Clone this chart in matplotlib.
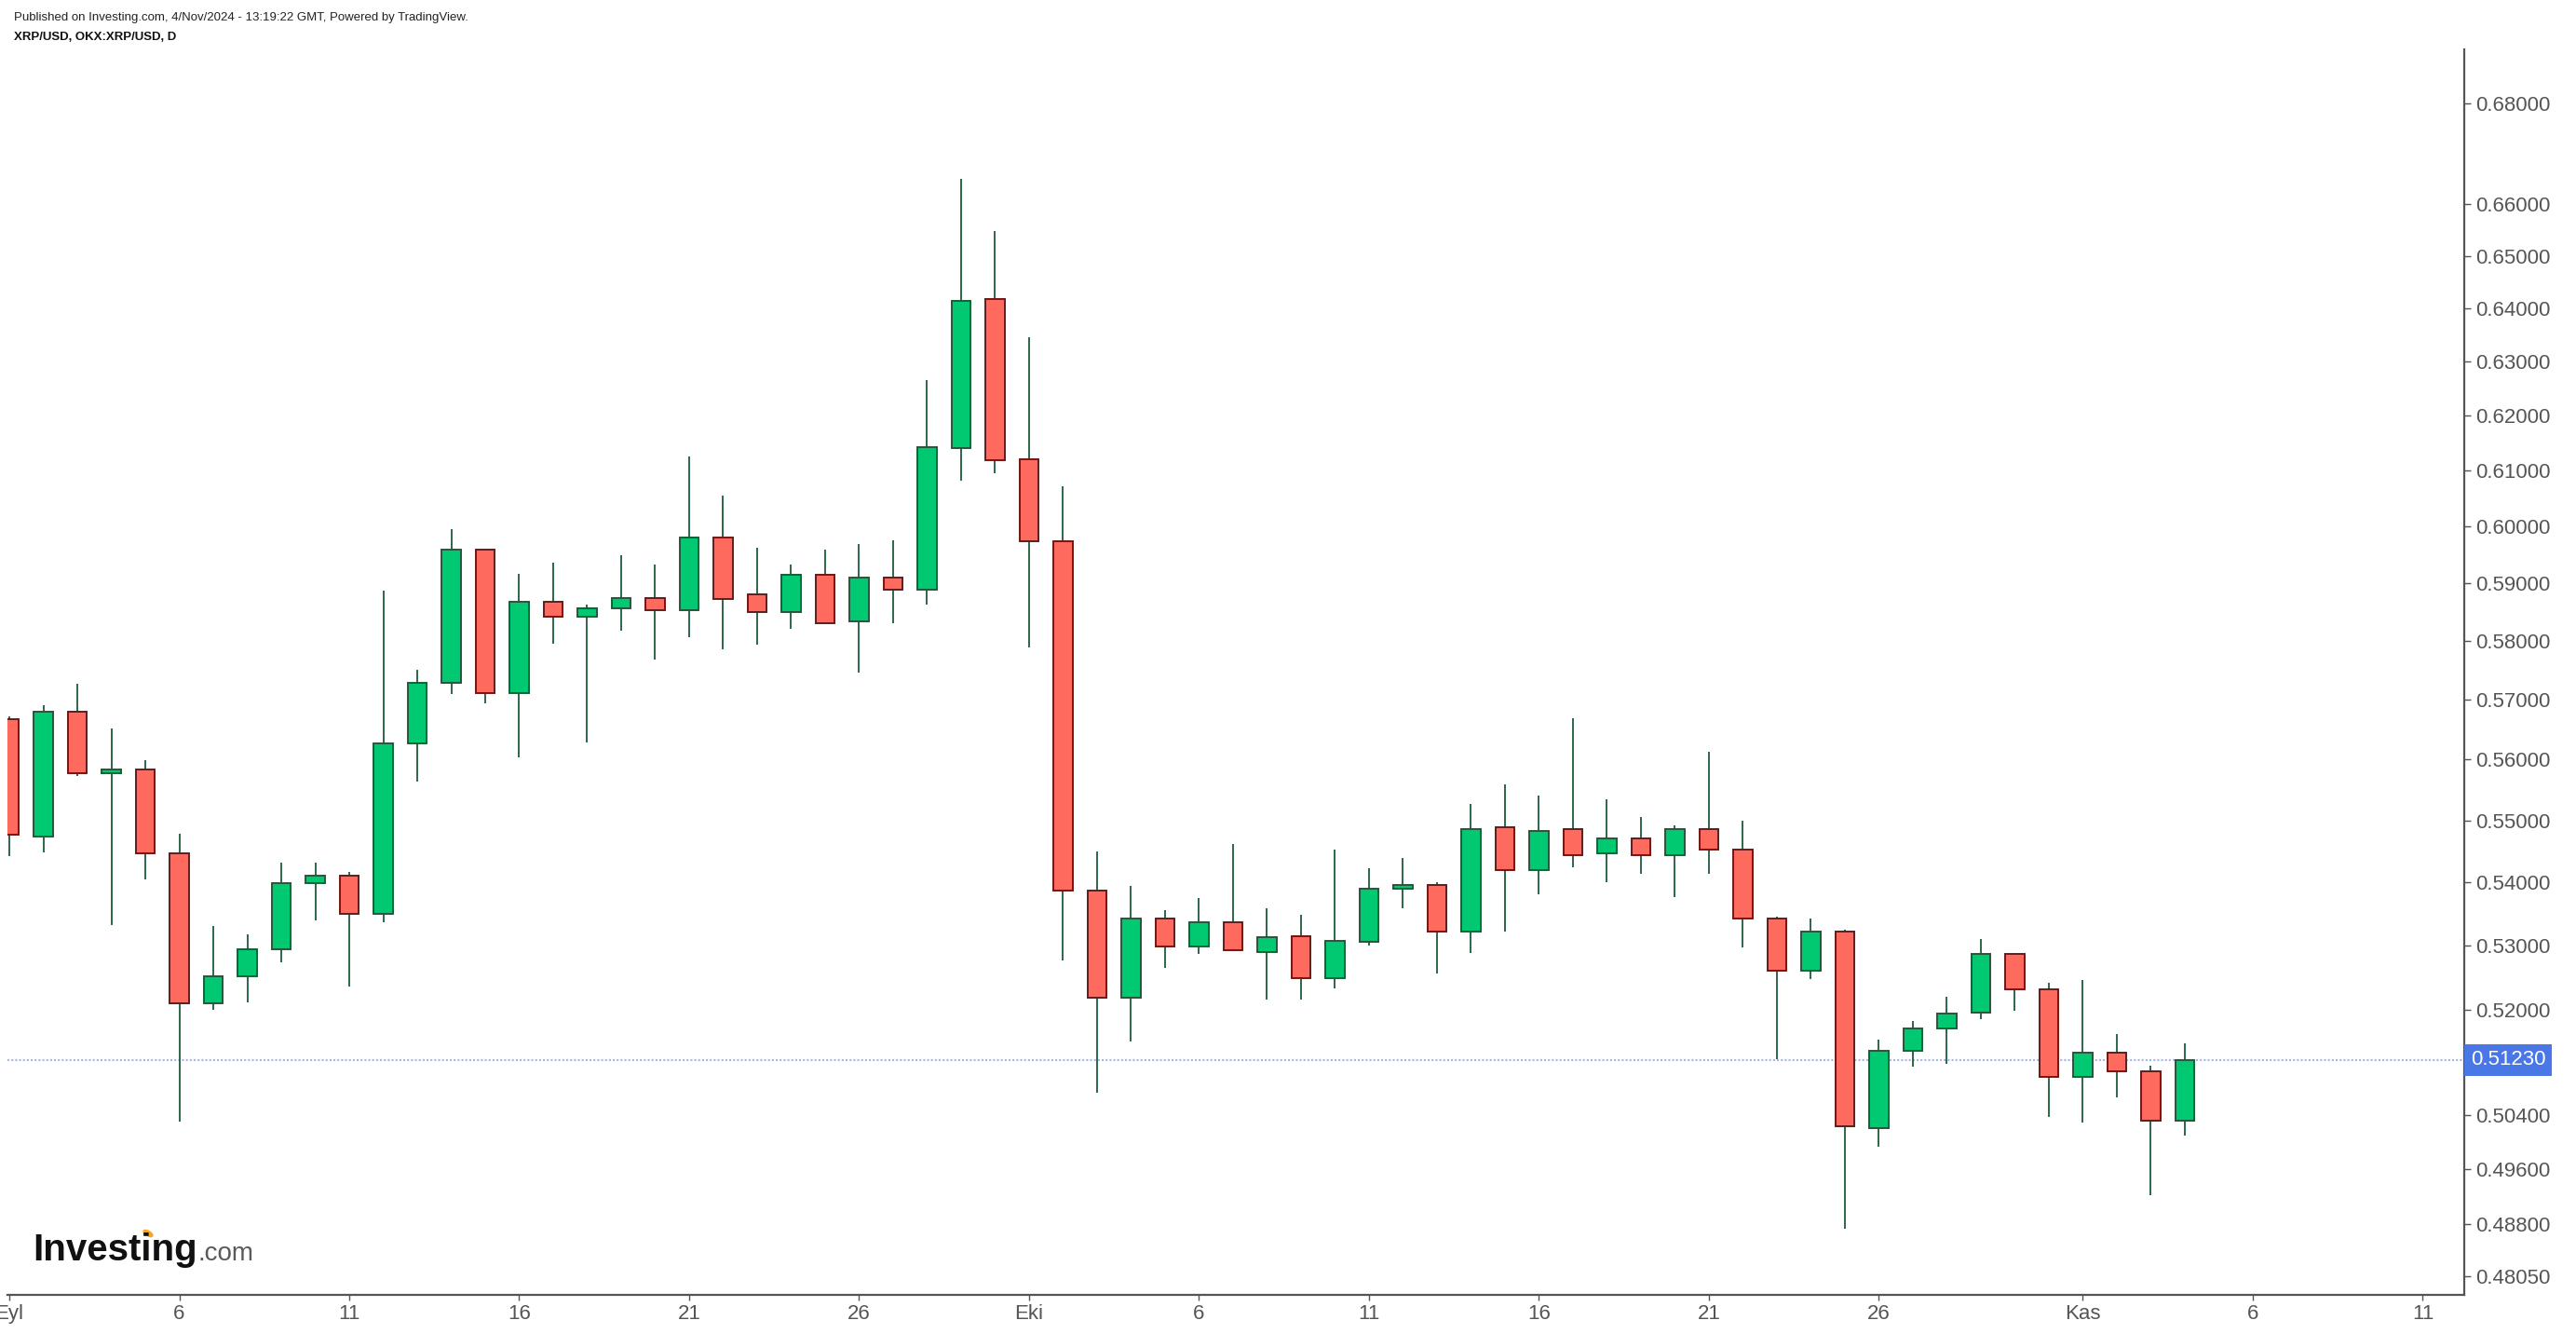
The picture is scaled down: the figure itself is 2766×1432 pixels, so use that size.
import numpy as np
import pandas as pd
import matplotlib
matplotlib.use('Agg')
import matplotlib.pyplot as plt
import matplotlib.dates as mdates
from matplotlib.patches import Ellipse
from matplotlib.ticker import FixedLocator, FixedFormatter, NullLocator

# XRP/USD daily candles, 1 Sep 2024 - 4 Nov 2024
opens = [0.5667, 0.5473, 0.5680, 0.5577, 0.5583, 0.5447, 0.5210, 0.5251,
         0.5294, 0.5399, 0.5410, 0.5350, 0.5626, 0.5729, 0.5958, 0.5711,
         0.5867, 0.5841, 0.5856, 0.5874, 0.5853, 0.5981, 0.5881, 0.5850,
         0.5915, 0.5834, 0.5909, 0.5888, 0.6141, 0.6418, 0.6121, 0.5974,
         0.5386, 0.5219, 0.5342, 0.5298, 0.5336, 0.5289, 0.5315, 0.5249,
         0.5306, 0.5389, 0.5396, 0.5321, 0.5489, 0.5419, 0.5485, 0.5446,
         0.5470, 0.5443, 0.5485, 0.5452, 0.5342, 0.5260, 0.5321, 0.5021,
         0.5137, 0.5171, 0.5196, 0.5286, 0.5232, 0.5097, 0.5134, 0.5106,
         0.5032]
highs = [0.5671, 0.5690, 0.5727, 0.5652, 0.5599, 0.5478, 0.5330, 0.5318,
         0.5432, 0.5432, 0.5417, 0.5887, 0.5750, 0.5995, 0.5958, 0.5916,
         0.5936, 0.5862, 0.5949, 0.5932, 0.6125, 0.6055, 0.5962, 0.5932,
         0.5958, 0.5969, 0.5975, 0.6265, 0.6650, 0.6548, 0.6345, 0.6072,
         0.5450, 0.5394, 0.5356, 0.5375, 0.5462, 0.5358, 0.5348, 0.5453,
         0.5422, 0.5439, 0.5400, 0.5526, 0.5559, 0.5541, 0.5668, 0.5535,
         0.5505, 0.5492, 0.5612, 0.5500, 0.5345, 0.5343, 0.5325, 0.5154,
         0.5183, 0.5220, 0.5310, 0.5286, 0.5241, 0.5246, 0.5163, 0.5115,
         0.5149]
lows = [0.5442, 0.5448, 0.5573, 0.5332, 0.5405, 0.5031, 0.5200, 0.5212,
        0.5273, 0.5340, 0.5236, 0.5337, 0.5563, 0.5710, 0.5694, 0.5603,
        0.5795, 0.5628, 0.5817, 0.5768, 0.5807, 0.5785, 0.5794, 0.5821,
        0.5831, 0.5746, 0.5830, 0.5862, 0.6081, 0.6095, 0.5789, 0.5276,
        0.5074, 0.5152, 0.5265, 0.5286, 0.5292, 0.5216, 0.5216, 0.5233,
        0.5300, 0.5359, 0.5256, 0.5288, 0.5321, 0.5380, 0.5424, 0.5400,
        0.5413, 0.5376, 0.5413, 0.5297, 0.5125, 0.5247, 0.4874, 0.4993,
        0.5113, 0.5118, 0.5186, 0.5199, 0.5037, 0.5029, 0.5067, 0.4922,
        0.5010]
closes = [0.5476, 0.5680, 0.5577, 0.5584, 0.5446, 0.5210, 0.5252, 0.5294,
          0.5399, 0.5410, 0.5350, 0.5626, 0.5729, 0.5958, 0.5711, 0.5867,
          0.5841, 0.5856, 0.5874, 0.5853, 0.5981, 0.5873, 0.5850, 0.5915,
          0.5831, 0.5909, 0.5888, 0.6142, 0.6415, 0.6118, 0.5974, 0.5386,
          0.5219, 0.5342, 0.5298, 0.5336, 0.5292, 0.5313, 0.5249, 0.5307,
          0.5389, 0.5396, 0.5321, 0.5486, 0.5419, 0.5483, 0.5443, 0.5470,
          0.5443, 0.5485, 0.5452, 0.5342, 0.5260, 0.5321, 0.5024, 0.5137,
          0.5171, 0.5194, 0.5286, 0.5231, 0.5097, 0.5134, 0.5106, 0.5032,
          0.5123]
last_price = 0.5123

start_date = '2024-09-01'
tick_dates = ['2024-09-01', '2024-09-06', '2024-09-11', '2024-09-16',
              '2024-09-21', '2024-09-26', '2024-10-01', '2024-10-06',
              '2024-10-11', '2024-10-16', '2024-10-21', '2024-10-26',
              '2024-11-01', '2024-11-06', '2024-11-11']
tick_labels = ['Eyl', '6', '11', '16', '21', '26', 'Eki', '6', '11', '16',
               '21', '26', 'Kas', '6', '11']
price_ticks = [0.4805, 0.488, 0.496, 0.504, 0.52, 0.53, 0.54, 0.55, 0.56,
               0.57, 0.58, 0.59, 0.60, 0.61, 0.62, 0.63, 0.64, 0.65, 0.66,
               0.68]

UP_FILL, UP_EDGE = '#00c972', '#1d5a3a'
DN_FILL, DN_EDGE = '#ff6a5f', '#6b1818'
WICK = '#1d5a3a'
AXIS = '#555555'

plt.rcParams['font.family'] = ['Liberation Sans', 'DejaVu Sans']

W, H = 2766, 1432
fig = plt.figure(figsize=(W / 100, H / 100), dpi=100)
ax = fig.add_axes([8 / W, 1 - 1390 / H, (2646 - 8) / W, (1390 - 53) / H])

dates = pd.date_range(start_date, periods=len(opens), freq='D')
x = mdates.date2num(dates)
o = np.array(opens)
c = np.array(closes)
up = c >= o

ax.vlines(x, lows, highs, color=WICK, linewidth=1.3, zorder=2)
ax.bar(x[up], (c - o)[up], bottom=o[up], width=0.56, color=UP_FILL,
       edgecolor=UP_EDGE, linewidth=1.4, zorder=3)
ax.bar(x[~up], (o - c)[~up], bottom=c[~up], width=0.56, color=DN_FILL,
       edgecolor=DN_EDGE, linewidth=1.4, zorder=3)

# last price line and label
ax.axhline(last_price, color='#a4b6f0', linestyle=(0, (1, 1)),
           linewidth=1.5, zorder=1)
ax.annotate('%.5f' % last_price, xy=(1, last_price),
            xycoords=('axes fraction', 'data'), xytext=(7, 0),
            textcoords='offset pixels', ha='left', va='center',
            fontsize=16, color='white', annotation_clip=False,
            bbox=dict(boxstyle='square,pad=0.3', fc='#4a77e6', ec='none'))

ax.set_yscale('log')
ax.set_ylim(0.4779, 0.6910)
ax.set_xlim(x[0] - 0.055, x[0] + 72.22)

ax.yaxis.tick_right()
ax.yaxis.set_major_locator(FixedLocator(price_ticks))
ax.yaxis.set_major_formatter(FixedFormatter(['%.5f' % t for t in price_ticks]))
ax.yaxis.set_minor_locator(NullLocator())
ax.xaxis.set_major_locator(FixedLocator(mdates.date2num(pd.to_datetime(tick_dates))))
ax.xaxis.set_major_formatter(FixedFormatter(tick_labels))
ax.xaxis.set_minor_locator(NullLocator())

for side in ['top', 'left']:
    ax.spines[side].set_visible(False)
for side in ['bottom', 'right']:
    ax.spines[side].set_color(AXIS)
    ax.spines[side].set_linewidth(1.6)
ax.tick_params(axis='y', which='major', length=5, width=1, pad=4,
               colors=AXIS, labelsize=16, direction='out')
ax.tick_params(axis='x', which='major', length=4, width=1, pad=3,
               colors=AXIS, labelsize=16, direction='out')

# header
fig.text(15 / W, 1 - 19 / H,
         'Published on Investing.com, 4/Nov/2024 - 13:19:22 GMT, '
         'Powered by TradingView.', fontsize=9.5, color='#222222',
         va='center')
fig.text(15 / W, 1 - 40 / H, 'XRP/USD, OKX:XRP/USD, D', fontsize=9.5,
         fontweight='bold', color='#111111', va='center')

# watermark logo
logo = fig.text(35 / W, 1 - 1353 / H, 'Investing', fontsize=29,
                fontweight='bold', color='#111111', va='baseline')
fig.canvas.draw()
bb = logo.get_window_extent()
fig.text((bb.x1 + 1) / W, 1 - 1353 / H, '.com', fontsize=20,
         color='#5a5a5a', va='baseline')
fig.add_artist(Ellipse((159 / W, 1 - 1324 / H), 7 / W, 8 / H, angle=30,
                       transform=fig.transFigure, color='#f5a623'))

fig.savefig('out.png', dpi=100, facecolor='white')
